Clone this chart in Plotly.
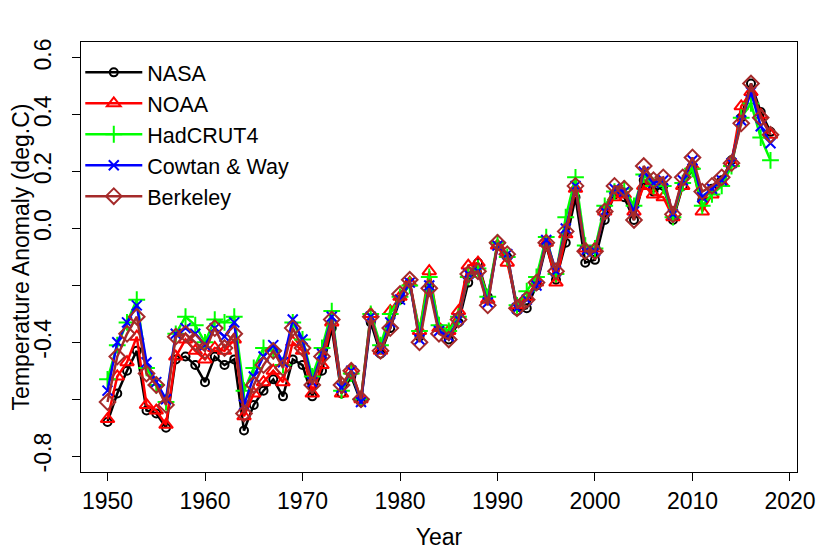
import plotly.graph_objects as go

years = list(range(1950, 2019))

nasa = [-0.68, -0.58, -0.50, -0.43, -0.64, -0.65, -0.70, -0.46, -0.45, -0.48,
        -0.54, -0.45, -0.48, -0.46, -0.71, -0.62, -0.57, -0.53, -0.59, -0.46,
        -0.48, -0.59, -0.50, -0.35, -0.58, -0.52, -0.61, -0.33, -0.44, -0.35,
        -0.25, -0.19, -0.38, -0.20, -0.35, -0.39, -0.33, -0.19, -0.12, -0.24,
        -0.06, -0.10, -0.29, -0.28, -0.20, -0.06, -0.18, -0.05, 0.11, -0.12,
        -0.11, 0.03, 0.12, 0.11, 0.03, 0.17, 0.13, 0.15, 0.03, 0.15,
        0.21, 0.10, 0.14, 0.17, 0.24, 0.39, 0.51, 0.41, 0.34]

noaa = [-0.67, -0.52, -0.47, -0.38, -0.62, -0.64, -0.69, -0.45, -0.39, -0.43,
        -0.46, -0.42, -0.43, -0.39, -0.66, -0.58, -0.54, -0.50, -0.54, -0.40,
        -0.43, -0.58, -0.48, -0.33, -0.58, -0.50, -0.60, -0.30, -0.43, -0.29,
        -0.24, -0.19, -0.36, -0.15, -0.35, -0.36, -0.29, -0.13, -0.12, -0.25,
        -0.06, -0.12, -0.27, -0.24, -0.19, -0.05, -0.19, -0.02, 0.14, -0.07,
        -0.07, 0.06, 0.11, 0.12, 0.06, 0.15, 0.12, 0.11, 0.04, 0.15,
        0.22, 0.06, 0.12, 0.16, 0.23, 0.43, 0.48, 0.40, 0.33]

hadcrut4 = [-0.53, -0.41, -0.33, -0.25, -0.49, -0.55, -0.61, -0.37, -0.31, -0.34,
            -0.40, -0.32, -0.33, -0.31, -0.57, -0.49, -0.42, -0.43, -0.48, -0.33,
            -0.39, -0.52, -0.42, -0.29, -0.57, -0.51, -0.60, -0.30, -0.41, -0.30,
            -0.24, -0.20, -0.36, -0.17, -0.34, -0.36, -0.31, -0.17, -0.14, -0.24,
            -0.05, -0.10, -0.27, -0.22, -0.17, -0.03, -0.16, 0.04, 0.18, -0.06,
            -0.07, 0.08, 0.13, 0.14, 0.08, 0.19, 0.15, 0.15, 0.04, 0.16,
            0.21, 0.08, 0.12, 0.15, 0.22, 0.39, 0.44, 0.32, 0.24]

cowtan_way = [-0.57, -0.40, -0.33, -0.27, -0.47, -0.54, -0.60, -0.37, -0.35, -0.37,
              -0.41, -0.35, -0.38, -0.33, -0.62, -0.52, -0.45, -0.41, -0.47, -0.32,
              -0.39, -0.54, -0.44, -0.31, -0.56, -0.50, -0.61, -0.31, -0.43, -0.33,
              -0.25, -0.19, -0.39, -0.20, -0.36, -0.38, -0.32, -0.16, -0.15, -0.26,
              -0.06, -0.09, -0.28, -0.25, -0.20, -0.04, -0.15, 0.00, 0.15, -0.08,
              -0.08, 0.06, 0.14, 0.13, 0.06, 0.20, 0.16, 0.17, 0.05, 0.17,
              0.24, 0.11, 0.14, 0.17, 0.23, 0.38, 0.48, 0.36, 0.30]

berkeley = [-0.61, -0.45, -0.37, -0.31, -0.51, -0.55, -0.62, -0.38, -0.37, -0.40,
            -0.43, -0.35, -0.42, -0.37, -0.65, -0.55, -0.48, -0.43, -0.49, -0.35,
            -0.42, -0.55, -0.45, -0.32, -0.55, -0.50, -0.60, -0.31, -0.43, -0.35,
            -0.23, -0.18, -0.40, -0.21, -0.37, -0.39, -0.32, -0.16, -0.15, -0.27,
            -0.05, -0.09, -0.28, -0.25, -0.19, -0.05, -0.15, -0.01, 0.15, -0.08,
            -0.08, 0.06, 0.15, 0.14, 0.03, 0.22, 0.17, 0.18, 0.05, 0.18,
            0.25, 0.13, 0.15, 0.18, 0.23, 0.37, 0.51, 0.39, 0.33]

y_ticks = [-0.8, -0.6, -0.4, -0.2, 0.0, 0.2, 0.4, 0.6]
y_labels = ["-0.8", "", "-0.4", "", "0.0", "0.2", "0.4", "0.6"]
x_ticks = [1950, 1960, 1970, 1980, 1990, 2000, 2010, 2020]

series = [
    ("NASA", nasa, "black", "circle-open", 8),
    ("NOAA", noaa, "#FF0000", "triangle-up-open", 12),
    ("HadCRUT4", hadcrut4, "#00FF00", "cross-thin-open", 12),
    ("Cowtan & Way", cowtan_way, "#0000FF", "x-thin-open", 10),
    ("Berkeley", berkeley, "#A52A2A", "diamond-open", 12),
]

fig = go.Figure()
for name, vals, col, sym, sz in series:
    fig.add_trace(go.Scatter(
        x=years, y=vals, name=name, mode="lines+markers",
        line=dict(color=col, width=2.5),
        marker=dict(symbol=sym, size=sz, color=col, line=dict(color=col, width=2)),
    ))

fnt = dict(family="Liberation Sans, Arial, sans-serif", size=23, color="black")

fig.update_xaxes(range=[1947.28, 2020.72], tickvals=x_ticks, ticks="outside", ticklen=8,
                 tickcolor="black", showline=True, linecolor="black", linewidth=1, mirror=True,
                 showgrid=False, zeroline=False, tickfont=fnt, automargin=False,
                 title=dict(text="Year", font=fnt, standoff=16))
fig.update_yaxes(range=[-0.856, 0.656], tickvals=y_ticks, ticktext=y_labels, ticks="outside",
                 ticklen=8, tickcolor="black", showline=True, linecolor="black", linewidth=1,
                 mirror=True, showgrid=False, zeroline=False, tickfont=fnt, tickangle=-90,
                 automargin=False, ticklabelstandoff=12,
                 title=dict(text="Temperature Anomaly (deg.C)", font=fnt, standoff=3))

# page body has an 8px margin, so the figure is 8px smaller and margins shifted
fig.update_layout(
    width=821, height=544,
    margin=dict(l=73, r=32, t=34, b=80),
    paper_bgcolor="white", plot_bgcolor="white",
    font=fnt,
    legend=dict(x=-0.001, y=0.977, xanchor="left", yanchor="top", bgcolor="rgba(0,0,0,0)",
                font=dict(family="Liberation Sans, Arial, sans-serif", size=21.5, color="black"),
                itemwidth=57, tracegroupgap=0),
)

fig.write_html("out.html")
